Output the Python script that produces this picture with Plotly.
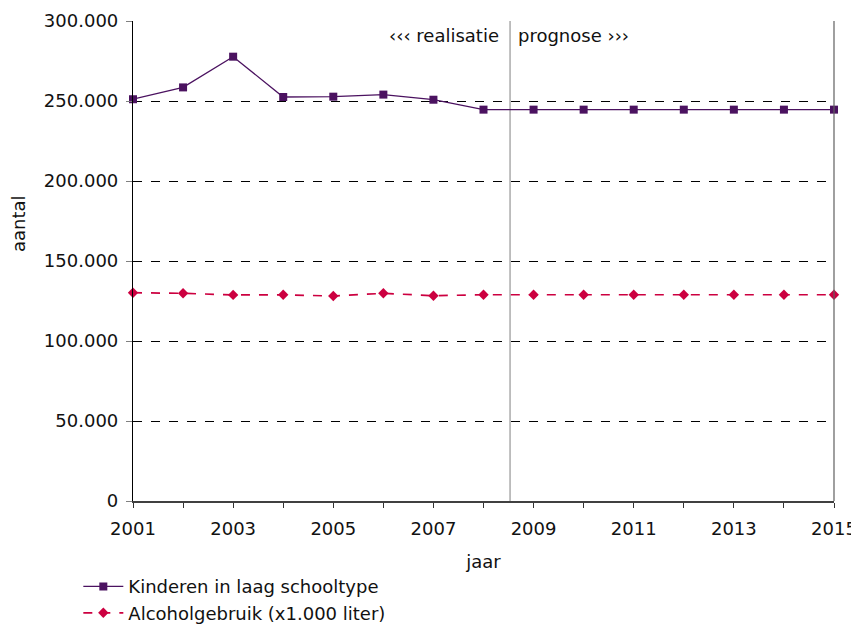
import plotly.graph_objects as go

years = list(range(2001, 2016))
kinderen = [251100, 258500, 277700, 252500, 252700, 254000, 250800,
            244600, 244600, 244600, 244600, 244600, 244600, 244600, 244600]
alcohol = [130200, 129800, 128800, 128900, 128100, 129800, 128300,
           128900, 128900, 128900, 128900, 128900, 128900, 128900, 128900]
y_ticks = [0, 50000, 100000, 150000, 200000, 250000, 300000]
x_ticks = [2001, 2003, 2005, 2007, 2009, 2011, 2013, 2015]
split_year = 2008.53

FONT = "DejaVu Sans"
FS = 18
PURPLE = "#4B1260"
RED = "#CC0040"

fig = go.Figure()
fig.add_trace(go.Scatter(
    x=years, y=kinderen, name="Kinderen in laag schooltype",
    mode="lines+markers",
    line=dict(color=PURPLE, width=1.3),
    marker=dict(symbol="square", size=8, color=PURPLE),
    cliponaxis=False,
))
fig.add_trace(go.Scatter(
    x=years, y=alcohol, name="Alcoholgebruik (x1.000 liter)",
    mode="lines+markers",
    line=dict(color=RED, width=1.7, dash="dash"),
    marker=dict(symbol="diamond", size=8, color=RED),
    cliponaxis=False,
))

fig.add_shape(type="line", xref="x", yref="paper", x0=split_year, x1=split_year,
              y0=0, y1=1, line=dict(color="#808080", width=1), layer="below")

fig.add_annotation(x=split_year, y=1, xref="x", yref="paper", xshift=-9, yshift=-2,
                   text="‹‹‹ realisatie", showarrow=False, xanchor="right", yanchor="top",
                   font=dict(family=FONT, size=FS, color="#111111"))
fig.add_annotation(x=split_year, y=1, xref="x", yref="paper", xshift=6, yshift=-2,
                   text="prognose ›››", showarrow=False, xanchor="left", yanchor="top",
                   font=dict(family=FONT, size=FS, color="#111111"))
# y-axis title placed like the reference (above centre)
fig.add_annotation(x=0, y=0.577, xref="paper", yref="paper", xshift=-115,
                   text="aantal", showarrow=False, textangle=-90,
                   xanchor="center", yanchor="middle",
                   font=dict(family=FONT, size=FS, color="#111111"))

fig.update_layout(
    width=859, height=625,
    margin=dict(l=125, r=33, t=13, b=132, autoexpand=False),
    paper_bgcolor="white", plot_bgcolor="white",
    font=dict(family=FONT, size=FS, color="#111111"),
    separators=",.",
    showlegend=True,
    legend=dict(x=-0.078, y=-0.14, xanchor="left", yanchor="top",
                orientation="v", font=dict(family=FONT, size=FS, color="#111111"),
                bgcolor="rgba(0,0,0,0)", tracegroupgap=0, itemwidth=40),
    xaxis=dict(
        range=[2001, 2015], tickmode="array", tickvals=x_ticks,
        ticks="outside", ticklen=5, tickcolor="#333333", ticklabelstandoff=5,
        showgrid=False, showline=True, linecolor="#404040", linewidth=2,
        mirror=False, zeroline=False, automargin=False,
        title=dict(text="jaar", font=dict(family=FONT, size=FS), standoff=18),
        minor=dict(ticks="outside", ticklen=5, tickcolor="#333333", dtick=1, showgrid=False),
    ),
    yaxis=dict(
        range=[0, 300000], tickmode="array", tickvals=y_ticks, tickformat=",d",
        ticks="outside", ticklen=6, tickcolor="#808080", ticklabelstandoff=4,
        showgrid=True, gridcolor="#000000", griddash="dash", gridwidth=1,
        showline=True, linecolor="#000000", linewidth=1.2, zeroline=False,
        automargin=False,
    ),
)
# right border
fig.add_shape(type="line", xref="paper", yref="paper", x0=1, x1=1, y0=0, y1=1,
              line=dict(color="#606060", width=1.2))

fig.write_html("out.html")
